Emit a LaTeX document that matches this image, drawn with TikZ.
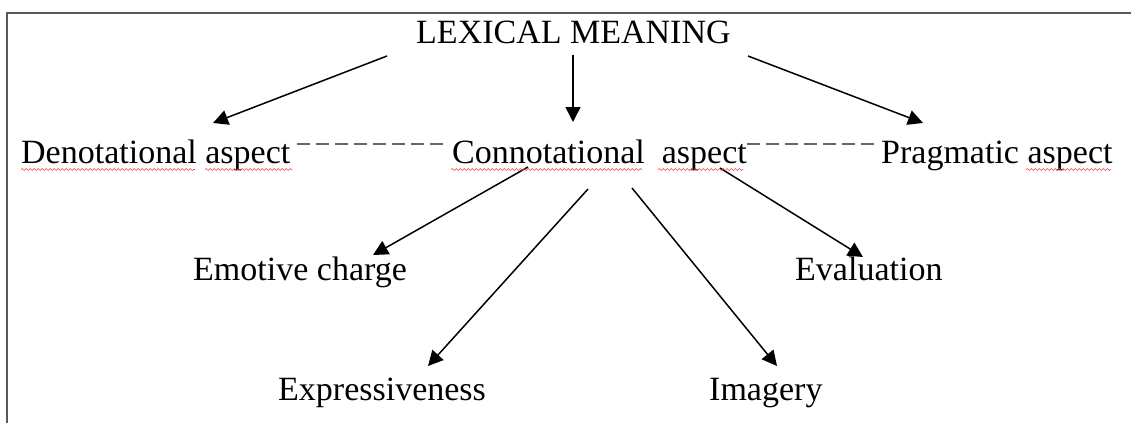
\documentclass[tikz,border=0pt]{standalone}
\usepackage{fontspec}
\setmainfont{Liberation Serif}
\usetikzlibrary{arrows.meta,decorations.pathmorphing}
\begin{document}
\begin{tikzpicture}[x=1pt,y=-1pt,
  lbl/.style={anchor=base west,inner sep=0pt,font=\fontsize{34}{40}\selectfont},
  arr/.style={line width=1.5pt,-{Triangle[length=15pt,width=15pt]}},
  dsh/.style={line width=1.5pt,draw=black!60,dash pattern=on 13pt off 6pt},
  squig/.style={draw=red!75,line width=0.6pt,decorate,decoration={snake,segment length=4pt,amplitude=1pt}},
  framestyle/.style={line width=1.5pt,draw=black!65}]
\useasboundingbox (0,0) rectangle (1131,423);
% frame (top and left edges visible)
\draw[framestyle] (7,423) -- (7,13) -- (1131,13);
% nodes
\node[lbl] (lex) at (416,43) {LEXICAL MEANING};
\node[lbl] (den) at (21,163) {Denotational aspect};
\node[lbl] (con) at (452,163) {Connotational\ \ aspect};
\node[lbl] (pra) at (881,163) {Pragmatic aspect};
\node[lbl] (emo) at (193,280) {Emotive charge};
\node[lbl] (eva) at (795,280) {Evaluation};
\node[lbl] (exp) at (278,400.5) {Expressiveness};
\node[lbl] (ima) at (709,400.5) {Imagery};
% connector end points
\coordinate (a1s) at (387,56);  \coordinate (a1e) at (213,123);
\coordinate (a2s) at (573,55);  \coordinate (a2e) at (573,122);
\coordinate (a3s) at (748,56);  \coordinate (a3e) at (923,123);
\coordinate (c1s) at (528,167); \coordinate (c1e) at (373,255);
\coordinate (c2s) at (588,189); \coordinate (c2e) at (428,366);
\coordinate (c3s) at (632,188); \coordinate (c3e) at (777,366);
\coordinate (c4s) at (720,168); \coordinate (c4e) at (863,257);
\coordinate (d1s) at (297,144); \coordinate (d1e) at (449,144);
\coordinate (d2s) at (747,144); \coordinate (d2e) at (879,144);
% arrows
\draw[arr] (a1s) -- (a1e);
\draw[arr] (a2s) -- (a2e);
\draw[arr] (a3s) -- (a3e);
\draw[arr] (c1s) -- (c1e);
\draw[arr] (c2s) -- (c2e);
\draw[arr] (c3s) -- (c3e);
\draw[arr] (c4s) -- (c4e);
% dashed links
\draw[dsh] (d1s) -- (d1e);
\draw[dsh] (d2s) -- (d2e);
% spell-check underlines
\draw[squig] (21,169.5) -- (195,169.5);
\draw[squig] (205,169.5) -- (292,169.5);
\draw[squig] (451,169.5) -- (642,169.5);
\draw[squig] (658,169.5) -- (743,169.5);
\draw[squig] (1026,169.5) -- (1111,169.5);
\end{tikzpicture}
\end{document}
